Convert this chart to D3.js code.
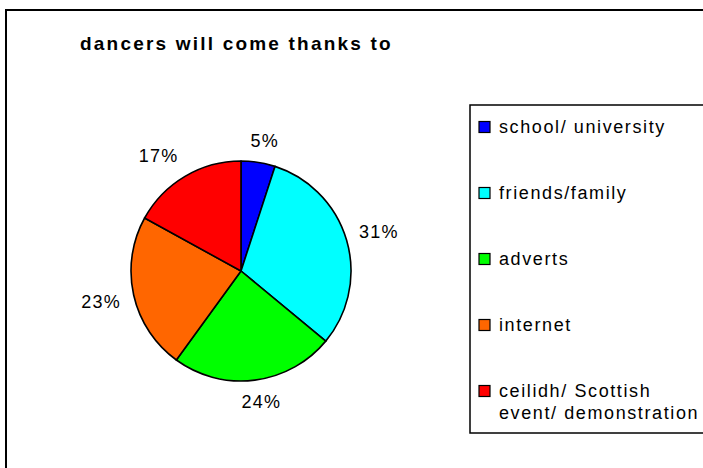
<!DOCTYPE html>
<html>
<head>
<meta charset="utf-8">
<script src="https://cdn.jsdelivr.net/npm/d3@7"></script>
<style>
  html, body { margin: 0; padding: 0; background: #fff; }
  svg { display: block; }
  text { font-family: "Liberation Sans", Arial, sans-serif; fill: #000; }
</style>
</head>
<body>
<svg id="chart" width="703" height="468"></svg>
<script>
const categories = ["school/ university", "friends/family", "adverts", "internet", "ceilidh/ Scottish event/ demonstration"];
const legendLines = [["school/ university"], ["friends/family"], ["adverts"], ["internet"], ["ceilidh/ Scottish", "event/ demonstration"]];
const values = [5, 31, 24, 23, 17];
const colors = ["#0000FF", "#00FFFF", "#00FF00", "#FF6600", "#FF0000"];
const title = "dancers will come thanks to";

const svg = d3.select("#chart");
const W = 703, H = 468;

svg.append("rect").attr("width", W).attr("height", H).attr("fill", "#fff");

// outer chart border (extends beyond right/bottom edges)
svg.append("rect")
  .attr("x", 6).attr("y", 10)
  .attr("width", 720).attr("height", 480)
  .attr("fill", "none").attr("stroke", "#000").attr("stroke-width", 2);

svg.append("text")
  .attr("x", 80).attr("y", 50)
  .style("font-size", "19px").style("font-weight", "bold")
  .style("letter-spacing", "2.2px")
  .text(title);

const cx = 241, cy = 271, r = 110;
const total = d3.sum(values);
const pie = d3.pie().sort(null).value(d => d)(values);
const arc = d3.arc().innerRadius(0).outerRadius(r);

const g = svg.append("g").attr("transform", `translate(${cx},${cy})`);
g.selectAll("path.slice")
  .data(pie)
  .join("path")
  .attr("class", "slice")
  .attr("d", arc)
  .attr("fill", (d, i) => colors[i])
  .attr("stroke", "#000")
  .attr("stroke-width", 1.6)
  .attr("stroke-linejoin", "round");

const fmt = d => Math.round(d / total * 100) + "%";
const labels = g.selectAll("text.lbl")
  .data(pie)
  .join("text")
  .attr("class", "lbl")
  .attr("text-anchor", "middle")
  .attr("dominant-baseline", "central")
  .style("font-size", "18px")
  .style("letter-spacing", "1.2px")
  .text(d => fmt(d.data));

const gap = 13;
const clamp = v => Math.max(-1, Math.min(1, v));
labels.each(function(d) {
  const w = this.getComputedTextLength();
  const h = 18;
  const a = (d.startAngle + d.endAngle) / 2;
  const s = Math.sin(a), c = Math.cos(a);
  const ax = (r + gap) * s, ay = -(r + gap) * c;
  d3.select(this)
    .attr("x", ax + (w / 2) * clamp(2 * s))
    .attr("y", ay - (h / 2) * clamp(2 * c));
});

// legend
const lx = 470, ly = 105, lw = 260, lh = 328;
svg.append("rect")
  .attr("x", lx).attr("y", ly).attr("width", lw).attr("height", lh)
  .attr("fill", "#fff").attr("stroke", "#000").attr("stroke-width", 1.5);

const rowY = d3.scalePoint().domain(categories).range([127, 391]);
const lg = svg.append("g");
const items = lg.selectAll("g.item").data(categories).join("g").attr("class", "item")
  .attr("transform", d => `translate(0,${rowY(d)})`);
items.append("rect")
  .attr("x", 479).attr("y", -5.5).attr("width", 11).attr("height", 11)
  .attr("fill", (d, i) => colors[i]).attr("stroke", "#000").attr("stroke-width", 1.2);
items.append("text")
  .attr("x", 499)
  .style("font-size", "18px")
  .style("letter-spacing", "1.6px")
  .selectAll("tspan")
  .data((d, i) => legendLines[i])
  .join("tspan")
  .attr("x", 499)
  .attr("y", (d, j) => j * 22)
  .attr("dy", "0.35em")
  .text(d => d);
</script>
</body>
</html>
